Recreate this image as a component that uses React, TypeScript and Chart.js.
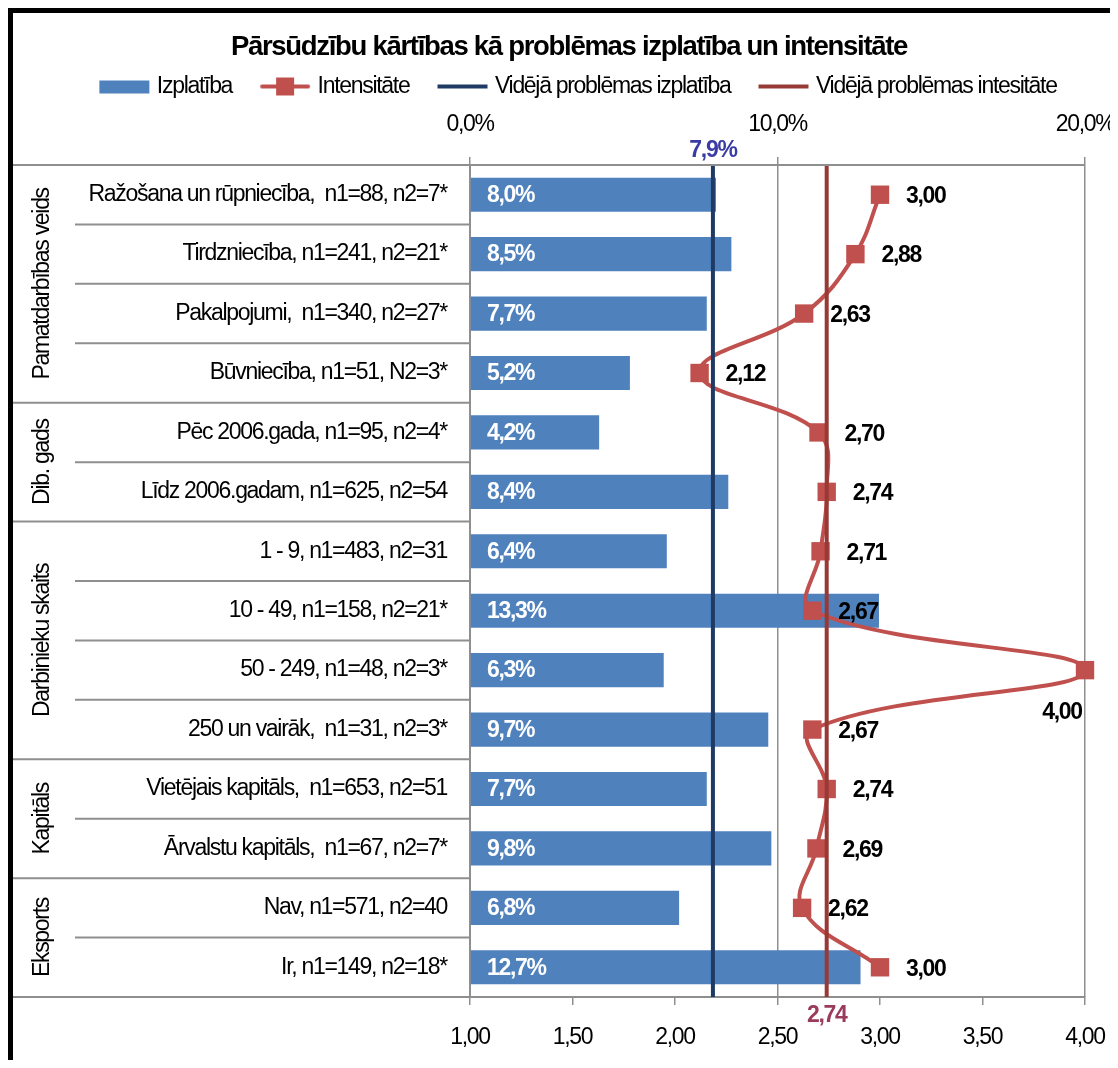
import React, { useEffect, useRef } from 'react';
import { Chart, registerables } from 'chart.js';

Chart.register(...registerables);

// ---------------- data ----------------
const CATEGORIES = [
  'Ražošana un rūpniecība,  n1=88, n2=7*',
  'Tirdzniecība, n1=241, n2=21*',
  'Pakalpojumi,  n1=340, n2=27*',
  'Būvniecība, n1=51, N2=3*',
  'Pēc 2006.gada, n1=95, n2=4*',
  'Līdz 2006.gadam, n1=625, n2=54',
  '1 - 9, n1=483, n2=31',
  '10 - 49, n1=158, n2=21*',
  '50 - 249, n1=48, n2=3*',
  '250 un vairāk,  n1=31, n2=3*',
  'Vietējais kapitāls,  n1=653, n2=51',
  'Ārvalstu kapitāls,  n1=67, n2=7*',
  'Nav, n1=571, n2=40',
  'Ir, n1=149, n2=18*',
];
const GROUP_NAMES = ['Pamatdarbības veids', 'Dib. gads', 'Darbinieku skaits', 'Kapitāls', 'Eksports'];
const GROUP_SIZES = [4, 2, 4, 2, 2];
const IZPLATIBA = [0.080, 0.085, 0.077, 0.052, 0.042, 0.084, 0.064, 0.133, 0.063, 0.097, 0.077, 0.098, 0.068, 0.127];
const INTENSITATE = [3.00, 2.88, 2.63, 2.12, 2.70, 2.74, 2.71, 2.67, 4.00, 2.67, 2.74, 2.69, 2.62, 3.00];
const AVG_IZPLATIBA = 0.079;
const AVG_INTENSITATE = 2.74;
const PCT_MIN = 0, PCT_MAX = 0.2, PCT_STEP = 0.1;
const INT_MIN = 1, INT_MAX = 4, INT_STEP = 0.5;

const TITLE = 'Pārsūdzību kārtības kā problēmas izplatība un intensitāte';
const LEGEND_LABELS = ['Izplatība', 'Intensitāte', 'Vidējā problēmas izplatība', 'Vidējā problēmas intesitāte'];

// ---------------- styles ----------------
const FONT = "'Liberation Sans Narrow', 'Arial Narrow', 'Liberation Sans', Arial, sans-serif";
const LETTER_SPACING = '-1.3px';
const BAR_COLOR = '#4f81bd';
const LINE_COLOR = '#c0504d';
const AVG1_COLOR = '#1f3a64';
const AVG2_COLOR = '#973a36';
const AVG1_LABEL_COLOR = '#3b3ba6';
const AVG2_LABEL_COLOR = '#9a3a5c';
const GRID_COLOR = '#8f8f8f';
const FS = 23;
const HEADER_SHIFT = 20;

const fmtPct = (v: number) => (v * 100).toFixed(1).replace('.', ',') + '%';
const fmtNum = (v: number) => v.toFixed(2).replace('.', ',');

function makeSymbol(kind: string): HTMLCanvasElement {
  const c = document.createElement('canvas');
  c.width = 80;
  c.height = 22;
  const g = c.getContext('2d') as CanvasRenderingContext2D;
  const x0 = 26, x1 = 76, cy = 11;
  if (kind === 'bar') {
    g.fillStyle = BAR_COLOR;
    g.fillRect(x0, cy - 6, x1 - x0, 13);
  } else {
    const col = kind === 'marker' ? LINE_COLOR : kind === 'avg1' ? AVG1_COLOR : AVG2_COLOR;
    g.strokeStyle = col;
    g.lineWidth = 4;
    g.lineCap = kind === 'marker' ? 'round' : 'butt';
    g.beginPath();
    g.moveTo(x0 + (kind === 'marker' ? 2 : 0), cy);
    g.lineTo(x1 - (kind === 'marker' ? 2 : 0), cy);
    g.stroke();
    if (kind === 'marker') {
      g.fillStyle = col;
      const mx = (x0 + x1) / 2;
      g.fillRect(mx - 9, cy - 9, 18, 18);
    }
  }
  return c;
}

const spacingPlugin = {
  id: 'spacing',
  beforeUpdate(chart: any) {
    chart.ctx.letterSpacing = LETTER_SPACING;
  },
  afterLayout(chart: any) {
    if (chart.titleBlock) chart.titleBlock.left += 2 * HEADER_SHIFT;
    if (chart.legend) chart.legend.left += 2 * HEADER_SHIFT;
  },
  beforeDraw(chart: any) {
    chart.ctx.letterSpacing = LETTER_SPACING;
  },
};

const decorPlugin = {
  id: 'decor',
  beforeDatasetsDraw(chart: any) {
    const { ctx, chartArea } = chart;
    const ys = chart.scales.y;
    const n = CATEGORIES.length;
    const mid = (i: number) => (ys.getPixelForValue(i) + ys.getPixelForValue(i + 1)) / 2;
    const seg = (x1: number, y1: number, x2: number, y2: number) => {
      ctx.beginPath();
      ctx.moveTo(x1, y1);
      ctx.lineTo(x2, y2);
      ctx.stroke();
    };
    ctx.save();
    ctx.strokeStyle = GRID_COLOR;
    ctx.lineWidth = 2;
    seg(0, chartArea.top, chartArea.left, chartArea.top);
    seg(0, chartArea.bottom, chartArea.left, chartArea.bottom);
    let idx = 0;
    GROUP_SIZES.forEach((size, gi) => {
      const start = idx;
      const end = idx + size - 1;
      for (let i = start; i < end; i++) {
        const yy = mid(i);
        seg(62, yy, chartArea.left, yy);
      }
      if (end < n - 1) {
        const yy = mid(end);
        seg(0, yy, chartArea.left, yy);
      }
      const top = start === 0 ? chartArea.top : mid(start - 1);
      const bottom = end === n - 1 ? chartArea.bottom : mid(end);
      ctx.save();
      ctx.translate(30, (top + bottom) / 2);
      ctx.rotate(-Math.PI / 2);
      ctx.fillStyle = '#000';
      ctx.font = `${FS}px ${FONT}`;
      ctx.textAlign = 'center';
      ctx.textBaseline = 'middle';
      ctx.fillText(GROUP_NAMES[gi], 0, 0);
      ctx.restore();
      idx += size;
    });
    ctx.restore();
  },
  afterDatasetsDraw(chart: any) {
    const { ctx, chartArea } = chart;
    ctx.save();
    // average lines
    const xa = chart.scales.x.getPixelForValue(AVG_IZPLATIBA);
    const xb = chart.scales.x2.getPixelForValue(AVG_INTENSITATE);
    ctx.lineWidth = 4;
    ctx.strokeStyle = AVG1_COLOR;
    ctx.beginPath();
    ctx.moveTo(xa, chartArea.top + 1);
    ctx.lineTo(xa, chartArea.bottom);
    ctx.stroke();
    ctx.strokeStyle = AVG2_COLOR;
    ctx.beginPath();
    ctx.moveTo(xb, chartArea.top + 1);
    ctx.lineTo(xb, chartArea.bottom);
    ctx.stroke();

    ctx.font = `bold ${FS}px ${FONT}`;
    ctx.textAlign = 'center';
    ctx.textBaseline = 'middle';
    ctx.fillStyle = AVG1_LABEL_COLOR;
    ctx.fillText(fmtPct(AVG_IZPLATIBA), xa, chartArea.top - 14);
    ctx.fillStyle = AVG2_LABEL_COLOR;
    ctx.fillText(fmtNum(AVG_INTENSITATE), xb, chartArea.bottom + 19);

    // bar labels
    const barMeta = chart.getDatasetMeta(0);
    ctx.fillStyle = '#fff';
    ctx.textAlign = 'left';
    barMeta.data.forEach((el: any, i: number) => {
      ctx.fillText(fmtPct(IZPLATIBA[i]), chartArea.left + 17, el.y + 1);
    });

    // intensity labels
    const lineMeta = chart.getDatasetMeta(1);
    ctx.fillStyle = '#000';
    lineMeta.data.forEach((el: any, i: number) => {
      const v = INTENSITATE[i];
      if (v >= INT_MAX) {
        ctx.textAlign = 'center';
        ctx.fillText(fmtNum(v), el.x - 23, el.y + 43);
      } else {
        ctx.textAlign = 'left';
        ctx.fillText(fmtNum(v), el.x + 26, el.y + 2);
      }
    });
    ctx.restore();
  },
};

export default function App() {
  const ref = useRef<HTMLCanvasElement | null>(null);

  useEffect(() => {
    if (!ref.current) return;
    const symbols = [makeSymbol('bar'), makeSymbol('marker'), makeSymbol('avg1'), makeSymbol('avg2')];
    const noSidePadding = (s: any) => {
      s.paddingLeft = 0;
      s.paddingRight = 0;
    };
    const chart = new Chart(ref.current, {
      type: 'bar',
      data: {
        labels: CATEGORIES,
        datasets: [
          {
            type: 'bar',
            label: LEGEND_LABELS[0],
            data: IZPLATIBA,
            backgroundColor: BAR_COLOR,
            xAxisID: 'x',
            yAxisID: 'y',
            barPercentage: 0.575,
            categoryPercentage: 1,
            order: 2,
          } as any,
          {
            type: 'line',
            label: LEGEND_LABELS[1],
            data: INTENSITATE,
            indexAxis: 'y',
            xAxisID: 'x2',
            yAxisID: 'y',
            borderColor: LINE_COLOR,
            backgroundColor: LINE_COLOR,
            borderWidth: 4,
            pointStyle: 'rect',
            pointRadius: 13,
            pointBorderWidth: 0,
            tension: 0.4,
            clip: false,
            order: 1,
          } as any,
        ],
      },
      options: {
        indexAxis: 'y',
        animation: false,
        responsive: false,
        events: [],
        layout: { padding: { left: 0, right: 33, top: 0, bottom: 0 } },
        plugins: {
          title: {
            display: true,
            text: TITLE,
            color: '#000',
            font: { family: FONT, size: 27.5, weight: 'bold', lineHeight: 1.2 },
            padding: { top: 18, bottom: 1 },
          },
          legend: {
            display: true,
            position: 'top',
            labels: {
              usePointStyle: true,
              pointStyleWidth: 64,
              boxHeight: FS,
              padding: 10,
              color: '#000',
              font: { family: FONT, size: FS },
              generateLabels: () =>
                LEGEND_LABELS.map((t, i) => ({
                  text: t,
                  pointStyle: symbols[i],
                  fillStyle: 'transparent',
                  strokeStyle: 'transparent',
                  lineWidth: 0,
                  hidden: false,
                  fontColor: '#000',
                  datasetIndex: i,
                })) as any,
            },
          },
          tooltip: { enabled: false },
        },
        scales: {
          x: {
            type: 'linear',
            position: 'top',
            min: PCT_MIN,
            max: PCT_MAX,
            afterFit: (s: any) => {
              s.height = 57;
              noSidePadding(s);
            },
            ticks: {
              stepSize: PCT_STEP,
              color: '#000',
              font: { family: FONT, size: FS },
              padding: 19,
              callback: (v: any) => fmtPct(Number(v)),
            },
            grid: { color: GRID_COLOR, lineWidth: 1.5, tickLength: 8, drawTicks: true },
            border: { display: true, color: GRID_COLOR, width: 2 },
          },
          x2: {
            type: 'linear',
            axis: 'x',
            position: 'bottom',
            min: INT_MIN,
            max: INT_MAX,
            afterFit: (s: any) => {
              s.height = 63;
              noSidePadding(s);
            },
            ticks: {
              stepSize: INT_STEP,
              color: '#000',
              font: { family: FONT, size: FS },
              padding: 19,
              callback: (v: any) => fmtNum(Number(v)),
            },
            grid: { drawOnChartArea: false, color: GRID_COLOR, lineWidth: 1.5, tickLength: 8 },
            border: { display: true, color: GRID_COLOR, width: 2 },
          },
          y: {
            type: 'category',
            position: 'left',
            afterFit: (s: any) => {
              s.width = 457;
            },
            ticks: {
              color: '#000',
              font: { family: FONT, size: FS },
              padding: 15,
              autoSkip: false,
            },
            grid: { display: false },
            border: { display: true, color: GRID_COLOR, width: 2 },
          },
        } as any,
      },
      plugins: [spacingPlugin, decorPlugin],
    } as any);
    return () => chart.destroy();
  }, []);

  return (
    <div
      style={{
        marginLeft: -1,
        marginTop: -1,
        borderLeft: '6px solid #000',
        borderTop: '6px solid #000',
        width: 1105,
        height: 1047,
      }}
    >
      <canvas ref={ref} width={1105} height={1047} style={{ display: 'block' }} />
    </div>
  );
}
